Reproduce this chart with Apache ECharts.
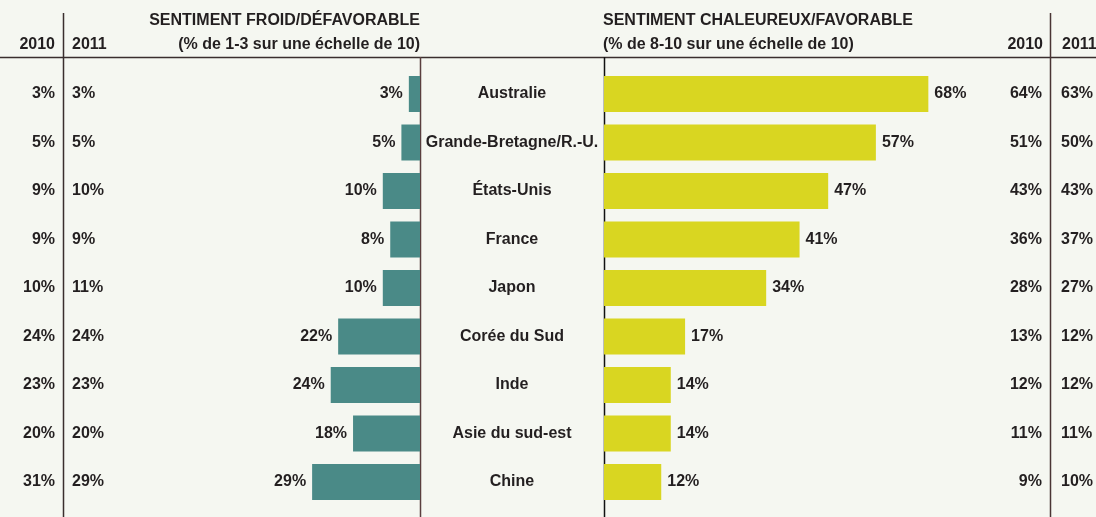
<!DOCTYPE html>
<html>
<head>
<meta charset="utf-8">
<script src="https://cdn.jsdelivr.net/npm/echarts@6/dist/echarts.min.js"></script>
<style>
  html, body { margin: 0; padding: 0; background: #f5f7f1; }
  #chart { width: 1096px; height: 517px; }
</style>
</head>
<body>
<div id="chart"></div>
<script>
// données
const pays = ["Australie", "Grande-Bretagne/R.-U.", "États-Unis", "France", "Japon", "Corée du Sud", "Inde", "Asie du sud-est", "Chine"];
const froid = [3, 5, 10, 8, 10, 22, 24, 18, 29];
const froid2010 = [3, 5, 9, 9, 10, 24, 23, 20, 31];
const froid2011 = [3, 5, 10, 9, 11, 24, 23, 20, 29];
const chaud = [68, 57, 47, 41, 34, 17, 14, 14, 12];
const chaud2010 = [64, 51, 43, 36, 28, 13, 12, 11, 9];
const chaud2011 = [63, 50, 43, 37, 27, 12, 12, 11, 10];

const font = "'Liberation Sans Narrow', 'Liberation Sans', sans-serif";
const ink = "#231f20";
const txt = { fontFamily: font, fontWeight: "bold", fontSize: 16, color: ink, padding: [3, 0, 0, 0] };

const chart = echarts.init(document.getElementById("chart"));

// axe catégoriel avec étiquettes tirées d'un tableau de valeurs
function colonne(gridIndex, position, offset, vals, align, margin) {
  return {
    type: "category", gridIndex: gridIndex, data: pays, inverse: true,
    position: position, offset: offset,
    axisLine: { show: false }, axisTick: { show: false }, splitLine: { show: false },
    axisLabel: Object.assign({}, txt, {
      align: align, margin: margin,
      formatter: (v, i) => vals[i] + "%"
    })
  };
}

const gridTop = 69.75, gridHeight = 436.5;

function head(x, y, text, align) {
  return { type: "text", x: x, y: y, style: { text: text, font: "bold 16px " + font, fill: ink, align: align, verticalAlign: "middle" } };
}

chart.setOption({
  backgroundColor: "#f5f7f1",
  animation: false,
  grid: [
    { left: 48, width: 372, top: gridTop, height: gridHeight },
    { left: 604, width: 478, top: gridTop, height: gridHeight }
  ],
  xAxis: [
    { type: "value", gridIndex: 0, min: 0, max: 100, inverse: true, show: false },
    { type: "value", gridIndex: 1, min: 0, max: 100, show: false }
  ],
  yAxis: [
    // pays au centre
    {
      type: "category", gridIndex: 0, data: pays, inverse: true, position: "right",
      axisLine: { show: false }, axisTick: { show: false },
      axisLabel: Object.assign({}, txt, { align: "center", margin: 92 })
    },
    { type: "category", gridIndex: 1, data: pays, inverse: true, show: false },
    colonne(0, "left", -15, froid2010, "right", 8),
    colonne(0, "left", -15, froid2011, "left", -9),
    colonne(1, "right", -32, chaud2010, "right", -7),
    colonne(1, "right", -32, chaud2011, "left", 12)
  ],
  series: [
    {
      type: "bar", xAxisIndex: 0, yAxisIndex: 0, data: froid, barWidth: 36,
      itemStyle: { color: "#4a8a87" },
      label: Object.assign({ show: true, position: "left", distance: 6, formatter: "{c}%" }, txt)
    },
    {
      type: "bar", xAxisIndex: 1, yAxisIndex: 1, data: chaud, barWidth: 36,
      itemStyle: { color: "#d9d621" },
      label: Object.assign({ show: true, position: "right", distance: 6, formatter: "{c}%" }, txt)
    }
  ],
  graphic: [
    { type: "line", shape: { x1: 0, y1: 57.5, x2: 1096, y2: 57.5 }, style: { stroke: "#3a2e2e", lineWidth: 1.5 } },
    { type: "line", shape: { x1: 63.5, y1: 13, x2: 63.5, y2: 517 }, style: { stroke: "#3a2e2e", lineWidth: 1.5 } },
    { type: "line", shape: { x1: 1050.5, y1: 13, x2: 1050.5, y2: 517 }, style: { stroke: "#4a3535", lineWidth: 1.5 } },
    { type: "line", shape: { x1: 420.5, y1: 57, x2: 420.5, y2: 517 }, style: { stroke: "#5a3f3f", lineWidth: 1.5 } },
    { type: "line", shape: { x1: 604.5, y1: 57, x2: 604.5, y2: 517 }, style: { stroke: "#111", lineWidth: 1.5 } },
    head(420, 21, "SENTIMENT FROID/DÉFAVORABLE", "right"),
    head(420, 45, "(% de 1-3 sur une échelle de 10)", "right"),
    head(603, 21, "SENTIMENT CHALEUREUX/FAVORABLE", "left"),
    head(603, 45, "(% de 8-10 sur une échelle de 10)", "left"),
    head(55, 45, "2010", "right"),
    head(72, 45, "2011", "left"),
    head(1043, 45, "2010", "right"),
    head(1062, 45, "2011", "left")
  ]
});
</script>
</body>
</html>
